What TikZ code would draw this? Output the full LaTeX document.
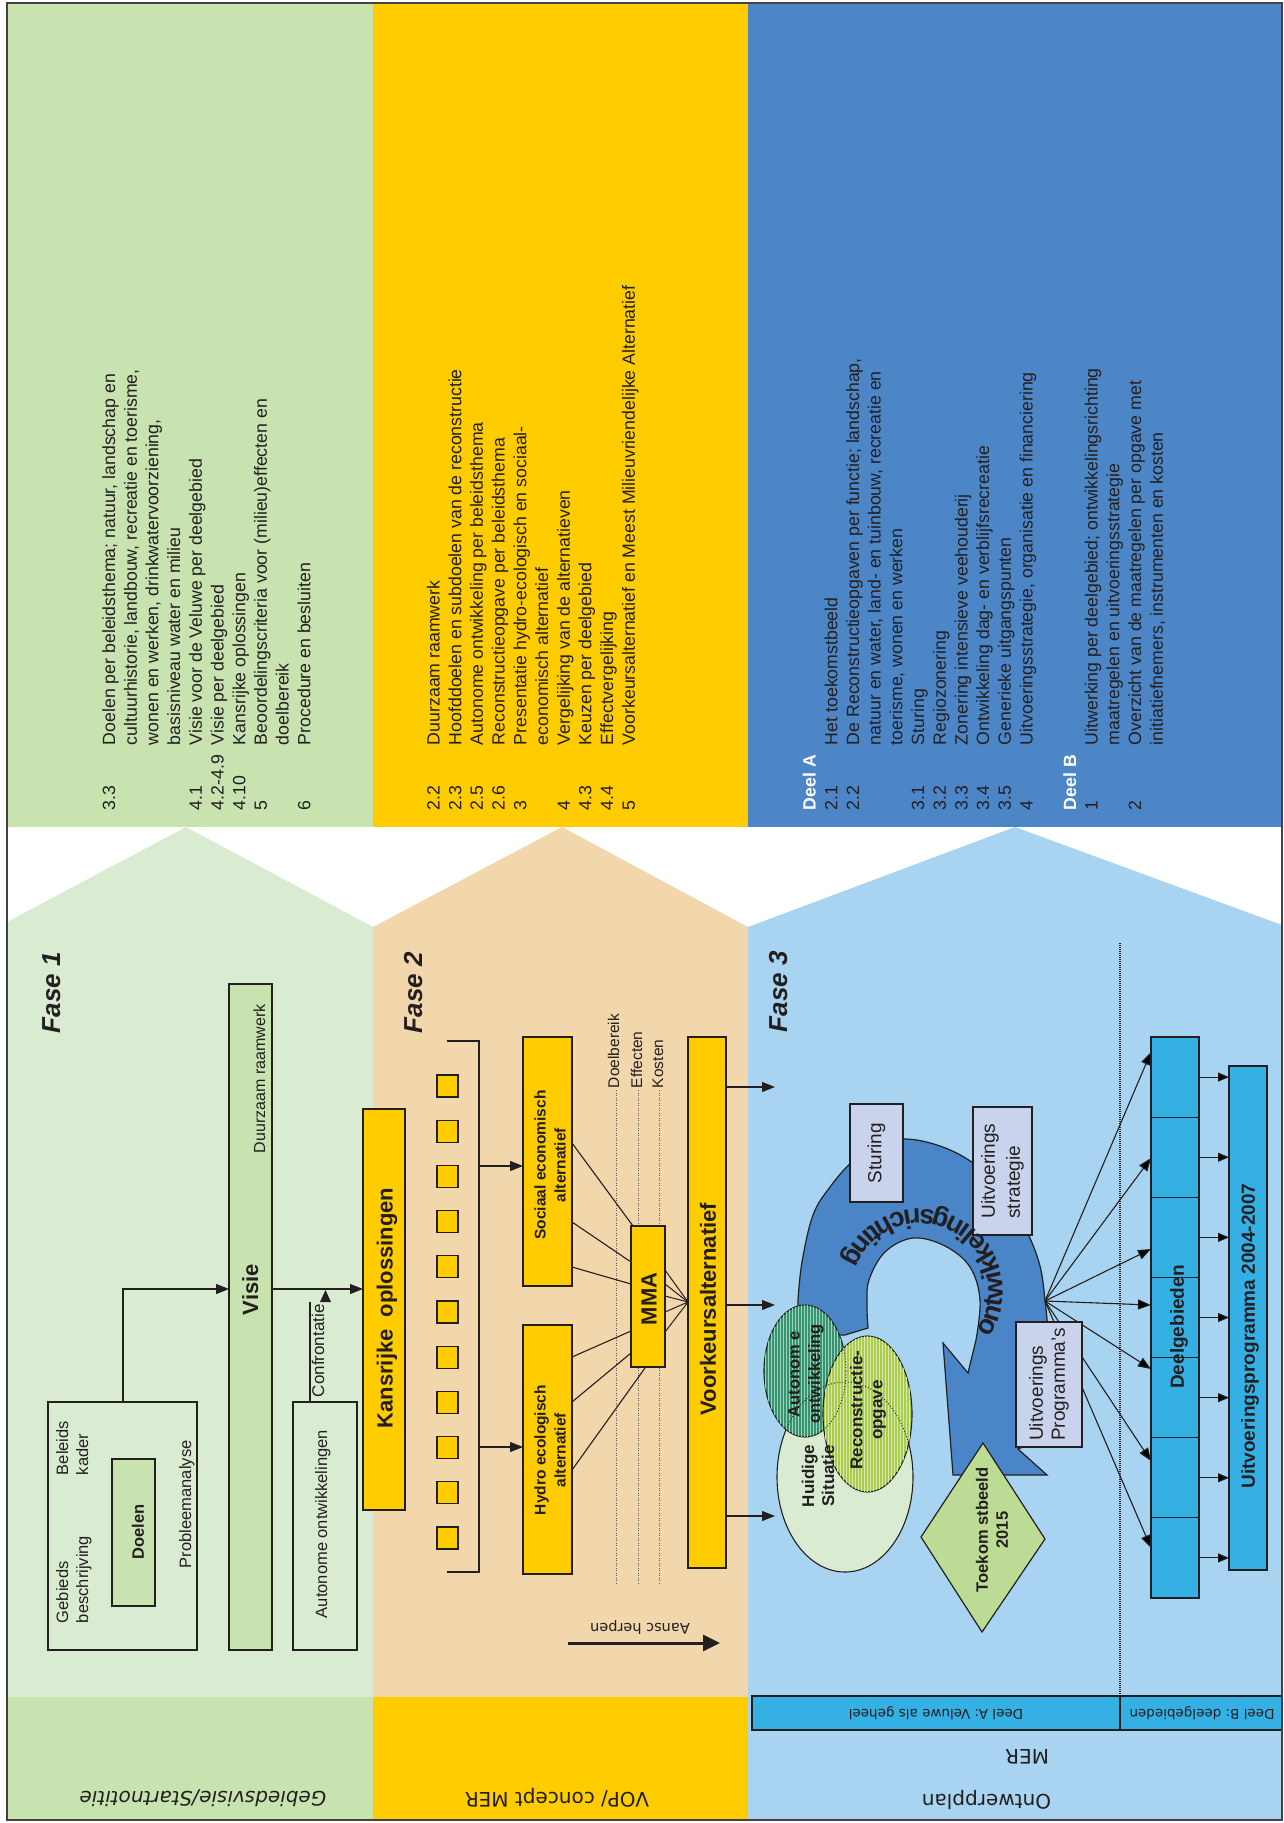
\documentclass[tikz,border=0pt]{standalone}
\usepackage{fontspec}
\setmainfont{Liberation Sans}
\newfontfamily\dejavu{DejaVu Sans}
\usetikzlibrary{arrows.meta,patterns.meta,decorations.text,calc}
\definecolor{topgreen}{RGB}{200,226,176}
\definecolor{midgreen}{RGB}{217,236,210}
\definecolor{cyel}{RGB}{255,204,0}
\definecolor{peach}{RGB}{242,214,172}
\definecolor{topblue}{RGB}{76,134,198}
\definecolor{lightblue}{RGB}{169,212,241}
\definecolor{cyanbox}{RGB}{52,176,229}
\definecolor{lav}{RGB}{201,212,236}
\definecolor{spiral}{RGB}{74,133,199}
\definecolor{diam}{RGB}{188,219,149}
\definecolor{autog}{RGB}{52,150,110}
\definecolor{recg}{RGB}{170,205,80}
\definecolor{ink}{RGB}{35,31,32}
\newcommand{\fsz}[2]{\fontsize{#1}{#2}\selectfont}
\newcommand{\spiralfont}{\fontsize{27}{27}\selectfont\bfseries}
\begin{document}
\begin{tikzpicture}[x=1pt,y=-1pt,
  bx/.style={draw=ink, line width=1.2pt, inner sep=0pt, outer sep=0pt},
  ln/.style={draw=ink, line width=1.1pt},
  arr/.style={draw=ink, line width=1.1pt, -{Triangle[length=13pt,width=10pt]}},
  sarr/.style={draw=ink, line width=1.1pt, -{Triangle[length=11pt,width=9pt]}},
  vt/.style={rotate=90, inner sep=0pt, outer sep=0pt, text=ink},
  ut/.style={rotate=180, inner sep=0pt, outer sep=0pt, text=ink},
  dotl/.style={draw=ink!75, line width=0.9pt, dash pattern=on 1pt off 1.5pt},
]
\useasboundingbox (0,0) rectangle (1284,1823);
% ---------- backgrounds ----------
\fill[white] (0,0) rectangle (1284,1823);
\fill[topgreen] (7,3) rectangle (373,827);
\fill[cyel] (373,3) rectangle (748,827);
\fill[topblue] (748,3) rectangle (1282,827);
\fill[midgreen] (7,922) -- (186,827) -- (373,927) -- (373,1697) -- (7,1697) -- cycle;
\fill[peach] (373,927) -- (562,827) -- (748,927) -- (748,1697) -- (373,1697) -- cycle;
\fill[lightblue] (748,927) -- (1015,827) -- (1282,925) -- (1282,1820) -- (748,1820) -- cycle;
\fill[topgreen] (7,1697) rectangle (373,1820);
\fill[cyel] (373,1697) rectangle (748,1820);

% ---------- top text blocks ----------
\node[vt, anchor=north west, font=\fsz{17.7}{21.7}] (blockA) at (99.9,810) {%
\begin{tabular}{@{}p{65pt}@{}l@{}}
3.3 & Doelen per beleidsthema; natuur, landschap en\\
 & cultuurhistorie, landbouw, recreatie en toerisme,\\
 & wonen en werken, drinkwatervoorziening,\\
 & basisniveau water en milieu\\
4.1 & Visie voor de Veluwe per deelgebied\\
4.2-4.9 & Visie per deelgebied\\
4.10 & Kansrijke oplossingen\\
5 & Beoordelingscriteria voor (milieu)effecten en\\
 & doelbereik\\
6 & Procedure en besluiten
\end{tabular}};
\node[vt, anchor=north west, font=\fsz{17.7}{21.7}] (blockB) at (424.4,810) {%
\begin{tabular}{@{}p{65pt}@{}l@{}}
2.2 & Duurzaam raamwerk\\
2.3 & Hoofddoelen en subdoelen van de reconstructie\\
2.5 & Autonome ontwikkeling per beleidsthema\\
2.6 & Reconstructieopgave per beleidsthema\\
3 & Presentatie hydro-ecologisch en sociaal-\\
 & economisch alternatief\\
4 & Vergelijking van de alternatieven\\
4.3 & Keuzen per deelgebied\\
4.4 & Effectvergelijking\\
5 & Voorkeursalternatief en Meest Milieuvriendelijke Alternatief
\end{tabular}};
\node[vt, anchor=north west, font=\fsz{17.7}{21.7}] (blockC) at (800.4,810) {%
\begin{tabular}{@{}p{65pt}@{}l@{}}
\textcolor{white}{\bfseries Deel A} & \\
2.1 & Het toekomstbeeld\\
2.2 & De Reconstructieopgaven per functie; landschap,\\
 & natuur en water, land- en tuinbouw, recreatie en\\
 & toerisme, wonen en werken\\
3.1 & Sturing\\
3.2 & Regiozonering\\
3.3 & Zonering intensieve veehouderij\\
3.4 & Ontwikkeling dag- en verblijfsrecreatie\\
3.5 & Generieke uitgangspunten\\
4 & Uitvoeringsstrategie, organisatie en financiering\\
 & \\
\textcolor{white}{\bfseries Deel B} & \\
1 & Uitwerking per deelgebied; ontwikkelingsrichting\\
 & maatregelen en uitvoeringsstrategie\\
2 & Overzicht van de maatregelen per opgave met\\
 & initiatiefnemers, instrumenten en kosten
\end{tabular}};

% ---------- Fase 1 ----------
\node[vt, anchor=base west, font=\fsz{26}{26}\bfseries\itshape] (fase1) at (60,1033) {Fase 1};
\node[bx, minimum width=149pt, minimum height=248pt] (gebieds) at (122.5,1526) {};
\node[bx, fill=topgreen, minimum width=43pt, minimum height=147pt] (doelen) at (133.5,1532.5) {};
\node[vt, font=\fsz{16.5}{16.5}\bfseries] at (138,1532) {Doelen};
\node[vt, anchor=base west, font=\fsz{16.5}{20}] at (68,1623) {Gebieds};
\node[vt, anchor=base west, font=\fsz{16.5}{20}] at (88,1623) {beschrijving};
\node[vt, anchor=base west, font=\fsz{16.5}{20}] at (68,1475) {Beleids};
\node[vt, anchor=base west, font=\fsz{16.5}{20}] at (88,1475) {kader};
\node[vt, anchor=base west, font=\fsz{16.5}{20}] at (191,1568) {Probleemanalyse};
\node[bx, fill=topgreen, minimum width=43pt, minimum height=666pt] (visie) at (250.5,1317) {};
\node[vt, anchor=base west, font=\fsz{16}{16}] at (265,1153) {Duurzaam raamwerk};
\node[vt, anchor=base west, font=\fsz{22}{22}\bfseries] at (258,1315) {Visie};
\node[bx, minimum width=64pt, minimum height=248pt] (autobox) at (325,1526) {};
\node[vt, anchor=base west, font=\fsz{16.5}{20}] at (327,1618) {Autonome ontwikkelingen};
\node[bx, fill=cyel, minimum width=42pt, minimum height=401pt] (kans) at (384,1309.5) {};
\node[vt, font=\fsz{22}{22}\bfseries] at (387,1308) {Kansrijke\ \ oplossingen};
\coordinate (j1) at (123,1289);
\coordinate (cf) at (310,1302);
\draw[arr] (gebieds.north -| j1) |- (visie.west |- j1);
\draw[arr] (visie.east |- j1) -- (kans.west |- j1);
\draw[ln] (autobox.north -| cf) -- (cf);
\fill[ink] (320,1302) -- (331,1302) -- (325.5,1290) -- cycle;
\node[vt, anchor=base west, font=\fsz{17}{17}] at (324,1397) {Confrontatie};

% ---------- Fase 2 ----------
\node[vt, anchor=base west, font=\fsz{26}{26}\bfseries\itshape] (fase2) at (422,1033) {Fase 2};
\foreach \i in {0,...,10} {
  \node[bx, fill=cyel, minimum width=21pt, minimum height=22pt] (sq\i) at (447.5,{1086+45.2*\i}) {};
}
\draw[ln] (447,1041) -- (479,1041) -- (479,1572) -- (447,1572);
\node[bx, fill=cyel, minimum width=49pt, minimum height=249pt] (soc) at (547.5,1161.5) {};
\node[bx, fill=cyel, minimum width=49pt, minimum height=249pt] (hyd) at (547.5,1449.5) {};
\node[vt, align=center, font=\fsz{15.5}{20}\bfseries] at (550,1165) {Sociaal economisch\\alternatief};
\node[vt, align=center, font=\fsz{15.5}{20}\bfseries] at (550,1450) {Hydro ecologisch\\alternatief};
\coordinate (b1) at (479,1166);
\coordinate (b2) at (479,1447);
\draw[arr] (b1) -- (soc.west |- b1);
\draw[arr] (b2) -- (hyd.west |- b2);
\draw[dotl] (616,1090) -- (616,1583);
\draw[dotl] (638,1090) -- (638,1583);
\draw[dotl] (659,1090) -- (659,1583);
\node[vt, anchor=base west, font=\fsz{15.5}{15.5}] at (619,1088) {Doelbereik};
\node[vt, anchor=base west, font=\fsz{15.5}{15.5}] at (642,1088) {Effecten};
\node[vt, anchor=base west, font=\fsz{15.5}{15.5}] at (663,1088) {Kosten};
\node[bx, fill=cyel, minimum width=38pt, minimum height=531pt] (voor) at (707,1302.5) {};
\node[vt, font=\fsz{22}{22}\bfseries] at (708,1309) {Voorkeursalternatief};
\draw[ln] (soc.east |- 0,1143) -- (633,1226);
\draw[ln] (soc.east |- 0,1222) -- (631,1262);
\draw[ln] (soc.east |- 0,1267) -- (631,1284);
\draw[ln] (hyd.east |- 0,1357) -- (631,1331);
\draw[ln] (hyd.east |- 0,1402) -- (631,1353);
\draw[ln] (hyd.east |- 0,1470) -- (645,1368);
\node[bx, fill=cyel, minimum width=34pt, minimum height=141pt] (mma) at (648,1296.5) {};
\node[vt, font=\fsz{22}{22}\bfseries] at (649,1299) {MMA};
\foreach \y in {1270,1284,1296,1312,1332} {
  \draw[ln, line width=1pt] (mma.east |- 0,\y) -- (voor.west |- 0,1302);
}
\draw[draw=ink, line width=3pt, -{Triangle[length=17pt,width=16pt]}] (568,1643) -- (720,1643);
\node[ut, font=\dejavu\fsz{14.5}{14.5}] at (640,1627) {Aansc herpen};

% ---------- Fase 3 ----------
\node[vt, anchor=base west, font=\fsz{26}{26}\bfseries\itshape] (fase3) at (787,1032) {Fase 3};
\coordinate (t1) at (775,1087);
\coordinate (t2) at (775,1305);
\coordinate (t3) at (775,1516);
\draw[arr] (voor.east |- t1) -- (t1);
\draw[arr] (voor.east |- t2) -- (t2);
\draw[arr] (voor.east |- t3) -- (t3);
% spiral arrow
\path[draw=ink, line width=1.2pt, fill=spiral] (845,1335) -- (798,1336)
  -- plot[smooth, tension=0.6] coordinates {(798,1300) (802,1262) (813,1215) (830,1187) (852,1162) (878,1146) (905,1139) (940,1146) (973,1163) (1003,1192) (1027,1232) (1040,1266) (1045,1300) (1048,1330)}
  -- (1040,1440) -- (1018,1449) -- (1047,1475) -- (953,1475) -- (943,1343) -- (968,1373)
  -- plot[smooth, tension=0.6] coordinates {(976,1340) (980,1300) (970,1267) (945,1246) (913,1238) (885,1252) (869,1280) (867,1305) (868,1328)}
  -- cycle;
\node[bx, fill=lav, rotate=90, minimum width=98pt, minimum height=53pt, font=\fsz{19}{19}, text=ink] (stu) at (876.5,1153) {Sturing};
\node[bx, fill=lav, rotate=90, minimum width=128pt, minimum height=59pt, align=left, font=\fsz{19}{25}, text=ink] (strat) at (1002.5,1171) {Uitvoerings\\strategie};
\path[decorate, decoration={text along path, text align=center, text color=ink, text={|\spiralfont|ontwikkelingsrichting}}]
  ($(920pt,-1292pt)+(-40:83pt)$) arc[start angle=-40, end angle=165, radius=83pt];
% circles
\draw[ln, fill=midgreen] (845,1477) ellipse [x radius=68pt, y radius=95pt];
\draw[ln, fill=autog] (805,1371) ellipse [x radius=41pt, y radius=66pt];
\path[pattern={Lines[angle=90,distance=3pt,line width=1pt]}, pattern color=white!55!autog] (805,1371) ellipse [x radius=41pt, y radius=66pt];
\begin{scope}
  \clip (805,1371) ellipse [x radius=41pt, y radius=66pt];
  \draw[ink, line width=0.9pt, dotted] (845,1477) ellipse [x radius=68pt, y radius=95pt];
\end{scope}
\draw[ln, fill=recg] (867.5,1414) ellipse [x radius=44.5pt, y radius=78pt];
\path[pattern={Lines[angle=90,distance=3pt,line width=1pt]}, pattern color=white!55!recg] (867.5,1414) ellipse [x radius=44.5pt, y radius=78pt];
\begin{scope}
  \clip (867.5,1414) ellipse [x radius=44.5pt, y radius=78pt];
  \draw[ink, line width=0.9pt, dotted] (845,1477) ellipse [x radius=68pt, y radius=95pt];
  \draw[ink, line width=0.9pt, dotted] (805,1371) ellipse [x radius=41pt, y radius=66pt];
\end{scope}
\node[vt, align=center, font=\fsz{17}{20}\bfseries] at (818,1476) {Huidige\\Situatie};
\node[vt, align=center, font=\fsz{16.5}{20.5}\bfseries] at (806,1374) {Autonom e\\ontwikkeling};
\node[vt, align=center, font=\fsz{17}{20}\bfseries] at (868,1410) {Reconstructie-\\opgave};
% diamond
\path[draw=ink, line width=1.2pt, fill=diam] (983,1443) -- (1045,1539) -- (982,1632) -- (921,1537) -- cycle;
\node[vt, align=center, font=\fsz{16.5}{20}\bfseries] (toek) at (992,1530) {Toekom stbeeld\\2015};
% dotted separator
\draw[draw=ink, line width=1.4pt, dash pattern=on 1pt off 1pt] (1120,943) -- (1120,1696);
% Deelgebieden
\foreach \i in {0,...,6} {
  \node[bx, fill=cyanbox, minimum width=48pt, minimum height=80.14pt] (dg\i) at (1175,{1077.07+80.14*\i}) {};
}
\node[bx, fill=cyanbox, minimum width=38pt, minimum height=504pt] (uit) at (1248,1318) {};
\node[vt, font=\fsz{19}{19}\bfseries] at (1179,1327) {Deelgebieden};
\node[vt, font=\fsz{19}{19}\bfseries] at (1250,1336) {Uitvoeringsprogramma 2004-2007};
\foreach \i in {0,...,6} {
  \draw[sarr] (dg\i.east) -- (uit.west |- dg\i.east);
}
% fan
\coordinate (fo) at (1045,1301);
\foreach \y in {1052,1158,1249,1305,1369,1461,1548} {
  \draw[arr] (fo) -- (dg0.west |- 0,\y);
}
\node[bx, fill=lav, rotate=90, minimum width=125pt, minimum height=66pt, align=left, font=\fsz{19}{22}, text=ink] (prg) at (1049,1384.5) {Uitvoerings\\Programma's};

% ---------- bottom band ----------
\node[bx, fill=cyanbox, minimum width=368pt, minimum height=34pt] (dela) at (936,1713) {};
\node[bx, fill=cyanbox, minimum width=162pt, minimum height=34pt] (delb) at (1201,1713) {};
\node[ut, font=\dejavu\fsz{13.5}{13.5}] at (dela) {Deel A: Veluwe als geheel};
\node[ut, font=\dejavu\fsz{13.5}{13.5}] at (1202,1713) {Deel B: deelgebieden};
\node[ut, font=\dejavu\itshape\fsz{20}{20}] at (203,1798) {Gebiedsvisie/Startnotitie};
\node[ut, font=\dejavu\fsz{20}{20}] at (557,1798) {VOP/ concept MER};
\node[ut, anchor=base west, font=\dejavu\fsz{20}{20}] at (1051,1794) {Ontwerpplan};
\node[ut, anchor=base west, font=\dejavu\fsz{20}{20}] at (1049,1749) {MER};

% frame
\draw[draw=ink!85, line width=1.6pt] (7,3) rectangle (1282,1820);
\end{tikzpicture}
\end{document}
